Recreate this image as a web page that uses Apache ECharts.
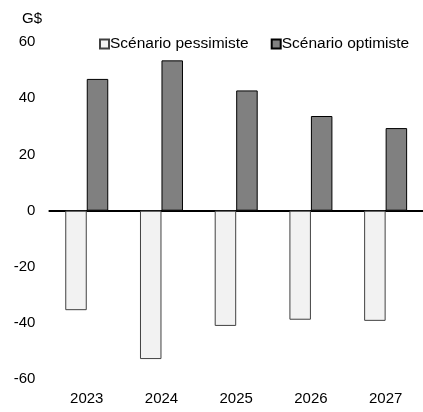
<!DOCTYPE html>
<html>
<head>
<meta charset="utf-8">
<script src="https://cdn.jsdelivr.net/npm/echarts@6/dist/echarts.min.js"></script>
<style>html,body{margin:0;padding:0;background:#fff}#c{width:423px;height:412px}</style>
</head>
<body>
<div id="c"></div>
<script>
const categories = ['2023', '2024', '2025', '2026', '2027'];
const pessimiste = [-35.4, -52.8, -41.0, -38.8, -39.2];
const optimiste = [46.9, 53.5, 42.8, 33.7, 29.4];
const yTicks = [-60, -40, -20, 0, 20, 40, 60];
const seriesNames = ['Scénario pessimiste', 'Scénario optimiste'];
const unitLabel = 'G$';

const FONT = 'Liberation Sans, Arial, sans-serif';
const chart = echarts.init(document.getElementById('c'), null, {renderer: 'canvas'});
chart.setOption({
  animation: false,
  backgroundColor: '#fff',
  title: {
    text: unitLabel, left: 17, top: 6,
    textStyle: {fontFamily: FONT, fontSize: 15, fontWeight: 'normal', color: '#000'}
  },
  legend: {
    data: seriesNames,
    left: 94, top: 31,
    itemWidth: 9, itemHeight: 9, itemGap: 22,
    icon: 'rect',
    textStyle: {fontFamily: FONT, fontSize: 15.5, color: '#000', padding: [0, 0, 0, -4]}
  },
  grid: {left: 49.4, right: -5, top: 42.1, bottom: 32.7, containLabel: false},
  xAxis: [
    {
      type: 'category', data: categories, position: 'bottom',
      axisLine: {show: false, onZero: false}, axisTick: {show: false},
      axisLabel: {fontFamily: FONT, fontSize: 15, color: '#000', margin: 12}
    },
    {
      type: 'category', data: categories, position: 'bottom',
      axisLine: {show: true, onZero: true, lineStyle: {color: '#000', width: 2}},
      axisTick: {show: false}, axisLabel: {show: false}, splitLine: {show: false}
    }
  ],
  yAxis: {
    type: 'value', min: yTicks[0], max: yTicks[yTicks.length - 1], interval: 20,
    axisLine: {show: false}, axisTick: {show: false}, splitLine: {show: false},
    axisLabel: {fontFamily: FONT, fontSize: 15, color: '#000', margin: 14}
  },
  series: [
    {
      name: seriesNames[0], type: 'bar', data: pessimiste, xAxisIndex: 0,
      barWidth: 21.5, barGap: '0%',
      itemStyle: {color: '#f2f2f2', borderColor: '#404040', borderWidth: 1}
    },
    {
      name: seriesNames[1], type: 'bar', data: optimiste, xAxisIndex: 0,
      barWidth: 21.5, barGap: '0%',
      itemStyle: {color: '#808080', borderColor: '#000', borderWidth: 1}
    }
  ]
});
</script>
</body>
</html>
